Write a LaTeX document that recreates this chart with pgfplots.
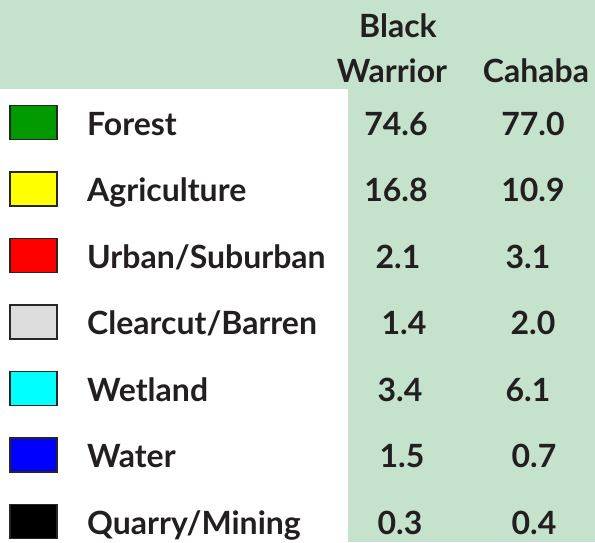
\documentclass[border=0pt]{standalone}
\usepackage{pgfplots}
\pgfplotsset{compat=1.18}
\usepackage{fontspec}
\setmainfont{Lato}
\definecolor{bggreen}{HTML}{C5E3CC}
\definecolor{txt}{HTML}{231F20}
\definecolor{cforest}{HTML}{009A00}
\definecolor{cagri}{HTML}{FFFF00}
\definecolor{curban}{HTML}{FF0000}
\definecolor{cclear}{HTML}{DDDDDD}
\definecolor{cwet}{HTML}{00FFFF}
\definecolor{cwater}{HTML}{0000FF}
\definecolor{cquarry}{HTML}{000000}
\tikzset{t/.style={font=\fontsize{32}{36}\selectfont\bfseries, text=txt, inner sep=0pt}}
\begin{document}
\begin{tikzpicture}
\begin{axis}[
  width=595pt, height=542pt, scale only axis,
  xmin=0, xmax=595, ymin=0, ymax=542, y dir=reverse,
  hide axis, clip=false,
  sq/.style={only marks, mark=square*, mark size=17pt,
    mark options={xscale=1.36, draw=black!85, line width=1.8pt, fill=#1}},
]
\fill[bggreen] (axis cs:0,0) rectangle (axis cs:595,542);
\fill[white] (axis cs:0,89) rectangle (axis cs:348,542);

\addplot[sq=cforest] coordinates {(33.5,122.5)};
\addplot[sq=cagri] coordinates {(33.5,189)};
\addplot[sq=curban] coordinates {(33.5,255.5)};
\addplot[sq=cclear] coordinates {(33.5,322)};
\addplot[sq=cwet] coordinates {(33.5,388.5)};
\addplot[sq=cwater] coordinates {(33.5,455)};
\addplot[sq=cquarry] coordinates {(33.5,521.5)};

\node[t,anchor=base] at (axis cs:398,37) {Black};
\node[t,anchor=base] at (axis cs:392,82) {Warrior};
\node[t,anchor=base] at (axis cs:536,82) {Cahaba};

\node[t,anchor=base west] at (axis cs:87,135) {Forest};
\node[t,anchor=base west] at (axis cs:87,201) {Agriculture};
\node[t,anchor=base west] at (axis cs:87,268) {Urban/Suburban};
\node[t,anchor=base west] at (axis cs:87,334) {Clearcut/Barren};
\node[t,anchor=base west] at (axis cs:87,401) {Wetland};
\node[t,anchor=base west] at (axis cs:87,467) {Water};
\node[t,anchor=base west] at (axis cs:87,534) {Quarry/Mining};

\node[t,anchor=base] at (axis cs:396,135) {74.6};
\node[t,anchor=base] at (axis cs:533,135) {77.0};
\node[t,anchor=base] at (axis cs:396,201) {16.8};
\node[t,anchor=base] at (axis cs:533,201) {10.9};
\node[t,anchor=base] at (axis cs:398,268) {2.1};
\node[t,anchor=base] at (axis cs:528,268) {3.1};
\node[t,anchor=base] at (axis cs:404,334) {1.4};
\node[t,anchor=base] at (axis cs:533,334) {2.0};
\node[t,anchor=base] at (axis cs:400,401) {3.4};
\node[t,anchor=base] at (axis cs:528,401) {6.1};
\node[t,anchor=base] at (axis cs:402,467) {1.5};
\node[t,anchor=base] at (axis cs:534,467) {0.7};
\node[t,anchor=base] at (axis cs:400,534) {0.3};
\node[t,anchor=base] at (axis cs:534,534) {0.4};
\end{axis}
\end{tikzpicture}
\end{document}
